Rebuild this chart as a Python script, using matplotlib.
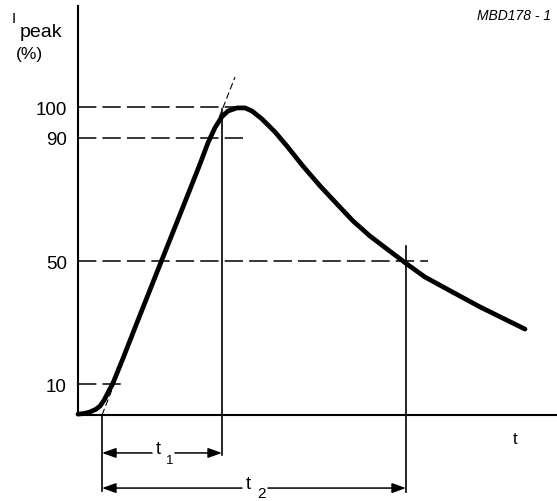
import matplotlib
matplotlib.use("Agg")
import matplotlib.pyplot as plt

plt.rcParams['font.family'] = ['Liberation Sans', 'DejaVu Sans']

# ---- data (time in arbitrary units, current in % of peak) ----
time = [0.0, 0.6, 1.2, 1.8, 2.2, 2.6, 3.0, 3.5, 4.5, 5.9, 8.0, 10.2, 12.2, 13.0, 13.7, 14.4,
        15.0, 15.9, 16.7, 17.4, 18.4, 19.7, 20.9, 22.5, 24.2, 25.9, 27.5, 29.2,
        30.9, 32.9, 34.7, 36.9, 40.2, 44.7]
current = [0.3, 0.5, 1.0, 1.9, 2.9, 4.8, 7.3, 10.4, 18.4, 30.0, 47.2, 65.1, 81.5, 88.4, 93.3, 96.9,
           98.7, 99.7, 99.7, 98.7, 96.1, 91.9, 87.3, 80.8, 74.4, 68.5, 63.0, 58.1,
           53.9, 49.0, 44.8, 40.9, 35.1, 27.9]

level_values = [10, 50, 90, 100]
level_labels = ["10", "50", "90", "100"]
level_ends = [4.5, 35.0, 17.0, 16.2]

tangent_t = [2.4, 15.7]
tangent_i = [0.0, 109.7]

t_start = 2.4      # foot of tangent
t1_end = 14.4
t2_end = 32.8

W, H = 557, 502
fig = plt.figure(figsize=(W / 100, H / 100), dpi=100)
ax = fig.add_axes([0, 0, 1, 1])
ax.set_xlim(-7.8, 47.9)
ax.set_ylim(-27.9, 135.06)
ax.patch.set_alpha(0)

def fpx(x, y):
    return x / W, 1 - y / H

# axes spines
for s in ['top', 'right']:
    ax.spines[s].set_visible(False)
ax.spines['left'].set_position(('data', 0))
ax.spines['bottom'].set_position(('data', 0))
ax.spines['left'].set_bounds(0, 132.8)
ax.spines['bottom'].set_bounds(0, 47.9)
for s in ['left', 'bottom']:
    ax.spines[s].set_linewidth(1.5)

ax.set_xticks([])
ax.set_yticks(level_values)
ax.set_yticklabels(level_labels, fontsize=13.5)
ax.tick_params(axis='y', length=0, pad=8)

# dashed reference levels
for lv, le in zip(level_values, level_ends):
    ax.plot([0, le], [lv, lv], color='black', lw=1.1, dashes=(12, 4), solid_capstyle='butt')

# tangent
ax.plot(tangent_t, tangent_i, color='black', lw=0.8, dashes=(6, 3))

# curve
ax.plot(time, current, color='black', lw=3.4, solid_capstyle='round', solid_joinstyle='round')

# vertical construction lines
ax.plot([t_start, t_start], [0, -24.7], color='black', lw=1.2, clip_on=False)
ax.plot([t1_end, t1_end], [99.4, -13.0], color='black', lw=1.2, clip_on=False)
ax.plot([t2_end, t2_end], [54.9, -25.0], color='black', lw=1.2, clip_on=False)

# dimension arrows (split around the labels)
arrow = dict(arrowstyle='-|>,head_length=0.7,head_width=0.25', lw=1.1,
             color='black', shrinkA=0, shrinkB=0, mutation_scale=12)
y1, y2 = -12.3, -23.7
ax.annotate('', xy=(t_start, y1), xytext=(7.4, y1), arrowprops=arrow, annotation_clip=False)
ax.annotate('', xy=(t1_end, y1), xytext=(9.7, y1), arrowprops=arrow, annotation_clip=False)
ax.annotate('', xy=(t_start, y2), xytext=(16.4, y2), arrowprops=arrow, annotation_clip=False)
ax.annotate('', xy=(t2_end, y2), xytext=(19.0, y2), arrowprops=arrow, annotation_clip=False)

# dimension labels
fig.text(*fpx(158, 450), 't', fontsize=13, ha='center', va='center')
fig.text(*fpx(170, 461), '1', fontsize=9.5, ha='center', va='center')
fig.text(*fpx(248, 485), 't', fontsize=13, ha='center', va='center')
fig.text(*fpx(262, 494), '2', fontsize=11, ha='center', va='center')

# axis labels
fig.text(*fpx(515, 440), 't', fontsize=12, ha='center', va='center')
fig.text(*fpx(14, 19), 'I', fontsize=11, ha='center', va='center')
fig.text(*fpx(20, 33), 'peak', fontsize=14, ha='left', va='center')
fig.text(*fpx(16, 55), '(%)', fontsize=12.5, ha='left', va='center')
fig.text(*fpx(477, 16), 'MBD178 - 1', fontsize=10, style='italic', ha='left', va='center')

fig.savefig('out.png', dpi=100)
